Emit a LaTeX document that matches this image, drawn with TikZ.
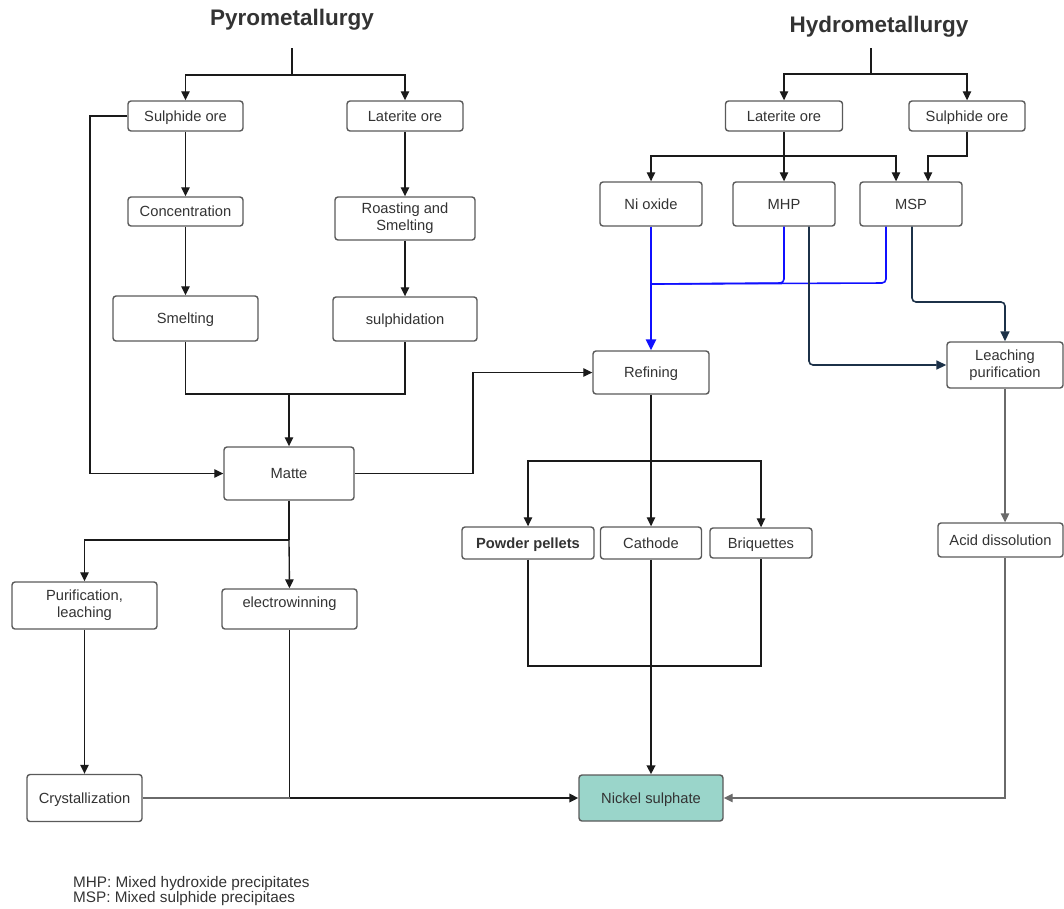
\documentclass[tikz,border=0pt]{standalone}
\usepackage{fontspec}
\setmainfont{Liberation Sans}
\usetikzlibrary{arrows.meta}
\definecolor{boxline}{HTML}{5A5A5A}
\definecolor{txt}{HTML}{333333}
\definecolor{lnk}{HTML}{1A1A1A}
\definecolor{graylnk}{HTML}{6A6A6A}
\definecolor{teal}{HTML}{9AD5CA}
\definecolor{navy}{HTML}{1C3148}
\definecolor{blueline}{HTML}{1010FF}
\begin{document}
\begin{tikzpicture}[x=1pt,y=-1pt,
  box/.style={draw=boxline,line width=1.4pt,rounded corners=3pt,fill=white,
    text=txt,align=center,inner sep=0pt,
    font=\fontsize{14.7}{17}\selectfont},
  one/.style={box,text height=10.5pt,text depth=0pt},
  title/.style={text=txt,font=\bfseries\fontsize{22.5}{26}\selectfont},
  tip/.style={-{Triangle[length=9pt,width=8.5pt]}},
  link/.style={draw=lnk,line width=1.35pt},
  arr/.style={link,tip},
  glink/.style={draw=graylnk,line width=1.4pt},
  garr/.style={glink,tip},
  bluel/.style={draw=blueline,line width=1.6pt},
  navyarr/.style={draw=navy,line width=1.6pt,rounded corners=4pt,-{Triangle[length=10pt,width=9pt]}}]
\useasboundingbox (0,0) rectangle (1064,908);

% headings
\node[title] (pyro) at (292,20) {Pyrometallurgy};
\node[title] (hydro) at (879,27) {Hydrometallurgy};
\coordinate (pt) at (292,48);
\coordinate (ht) at (871,48);

% pyrometallurgy boxes
\node[one,minimum width=115,minimum height=30] (ps) at (185.5,116) {Sulphide ore};
\node[one,minimum width=116,minimum height=30] (pl) at (405,116) {Laterite ore};
\node[one,minimum width=115,minimum height=29] (conc) at (185.5,211.5) {Concentration};
\node[box,minimum width=140,minimum height=43] (roast) at (405,218.5) {Roasting and\\Smelting};
\node[one,minimum width=145,minimum height=45] (smelt) at (185.5,318.5) {Smelting};
\node[one,minimum width=144,minimum height=44] (sulph) at (405,319) {sulphidation};
\node[one,minimum width=130,minimum height=53] (matte) at (289,473.5) {Matte};
\node[box,minimum width=145,minimum height=47] (pur) at (84.5,605.5) {Purification,\\leaching};
\node[one,minimum width=135,minimum height=40] (ew) at (289.5,609) {\raisebox{7pt}[\height][\depth]{electrowinning}};
\node[one,minimum width=115,minimum height=47] (cryst) at (84.5,798) {Crystallization};

% refining and products
\node[one,minimum width=116,minimum height=43] (ref) at (651,372.5) {Refining};
\node[one,minimum width=132,minimum height=32,font=\bfseries\fontsize{14.7}{17}\selectfont] (pp) at (528,543) {Powder pellets};
\node[one,minimum width=101,minimum height=32] (cat) at (651,543) {Cathode};
\node[one,minimum width=102,minimum height=30] (bri) at (761,543) {Briquettes};
\node[one,minimum width=144,minimum height=46,fill=teal] (ni) at (651,798) {Nickel sulphate};

% hydrometallurgy boxes
\node[one,minimum width=117,minimum height=30] (hl) at (784,116) {Laterite ore};
\node[one,minimum width=116,minimum height=30] (hs) at (967,116) {Sulphide ore};
\node[one,minimum width=102,minimum height=44] (nio) at (651,204) {Ni oxide};
\node[one,minimum width=102,minimum height=44] (mhp) at (784,204) {MHP};
\node[one,minimum width=102,minimum height=44] (msp) at (911,204) {MSP};
\node[box,minimum width=116,minimum height=46] (leach) at (1005,365) {Leaching\\purification};
\node[one,minimum width=125,minimum height=34] (acid) at (1000.5,540) {Acid dissolution};

% pyrometallurgy connectors
\draw[link] (pt) -- (292,75) coordinate (pj);
\draw[arr] (pj) -| (ps.north);
\draw[arr] (pj) -| (pl.north);
\draw[arr] (ps) -- (conc);
\draw[arr] (conc) -- (smelt);
\draw[arr] (pl) -- (roast);
\draw[arr] (roast) -- (sulph);
\coordinate (mj) at (289,394);
\draw[link] (smelt.south) |- (mj) -| (sulph.south);
\draw[arr] (mj) -- (matte.north);
\draw[arr] (ps.west) -- (90,116) |- (matte.west);
\draw[arr,line width=1.1pt] (matte.east) -- (473,473.5) |- (ref.west);
\coordinate (mb) at (289,540);
\draw[link] (matte.south) -- (mb);
\draw[arr] (mb) -| (pur.north);
\draw[arr] (mb) -- (ew.north);
\draw[arr] (pur) -- (cryst);
\coordinate (ej) at (289.5,798);
\draw[link] (ew.south) -- (ej);
\draw[glink] (cryst.east) -- (ej);
\draw[arr,line width=2pt] (ej) -- (ni.west);

% refining connectors
\coordinate (rj) at (651,461);
\draw[link,line width=1.7pt] (ref.south) -- (rj);
\draw[arr] (rj) -| (pp.north);
\draw[arr] (rj) -| (bri.north);
\draw[arr] (rj) -- (cat.north);
\draw[link] (pp.south) |- (651,666) -| (bri.south);
\draw[arr,line width=2.4pt] (cat.south) -- (ni.north);
\draw[garr] (leach.south) -- (leach.south |- acid.north);
\draw[garr] (acid.south -| leach.south) |- (ni.east);

% hydrometallurgy connectors
\draw[link] (ht) -- (871,74) coordinate (hj);
\draw[arr] (hj) -| (hl.north);
\draw[arr] (hj) -| (hs.north);
\draw[arr] (hl) -- (mhp);
\coordinate (lj) at (784,156);
\draw[arr] (lj) -| (nio.north);
\draw[arr] (lj) -| ([xshift=-15pt]msp.north);
\draw[arr] (hs.south) -- (967,156) -| ([xshift=17pt]msp.north);

% routes to refining
\coordinate (bj) at (651,284);
\draw[bluel] (nio.south) -- (bj);
\draw[bluel,rounded corners=4pt] (mhp.south) -- (784,283) -- (bj);
\draw[bluel,rounded corners=4pt] ([xshift=-25pt]msp.south) -- (886,283) -- (bj);
\draw[draw=blueline,line width=2.6pt,-{Triangle[length=11pt,width=10pt]}] (bj) -- (ref.north);

% routes to leaching
\draw[navyarr] ([xshift=25pt]mhp.south) -- (809,365) -- (leach.west);
\draw[navyarr] ([xshift=1pt]msp.south) -- (912,302) -- (1005,302) -- (leach.north);

% abbreviations
\node[anchor=west,align=left,text=txt,inner sep=0pt,font=\fontsize{15.3}{15}\selectfont] (abbr) at (73,891.5) {MHP: Mixed hydroxide precipitates\\MSP: Mixed sulphide precipitaes};
\end{tikzpicture}
\end{document}
